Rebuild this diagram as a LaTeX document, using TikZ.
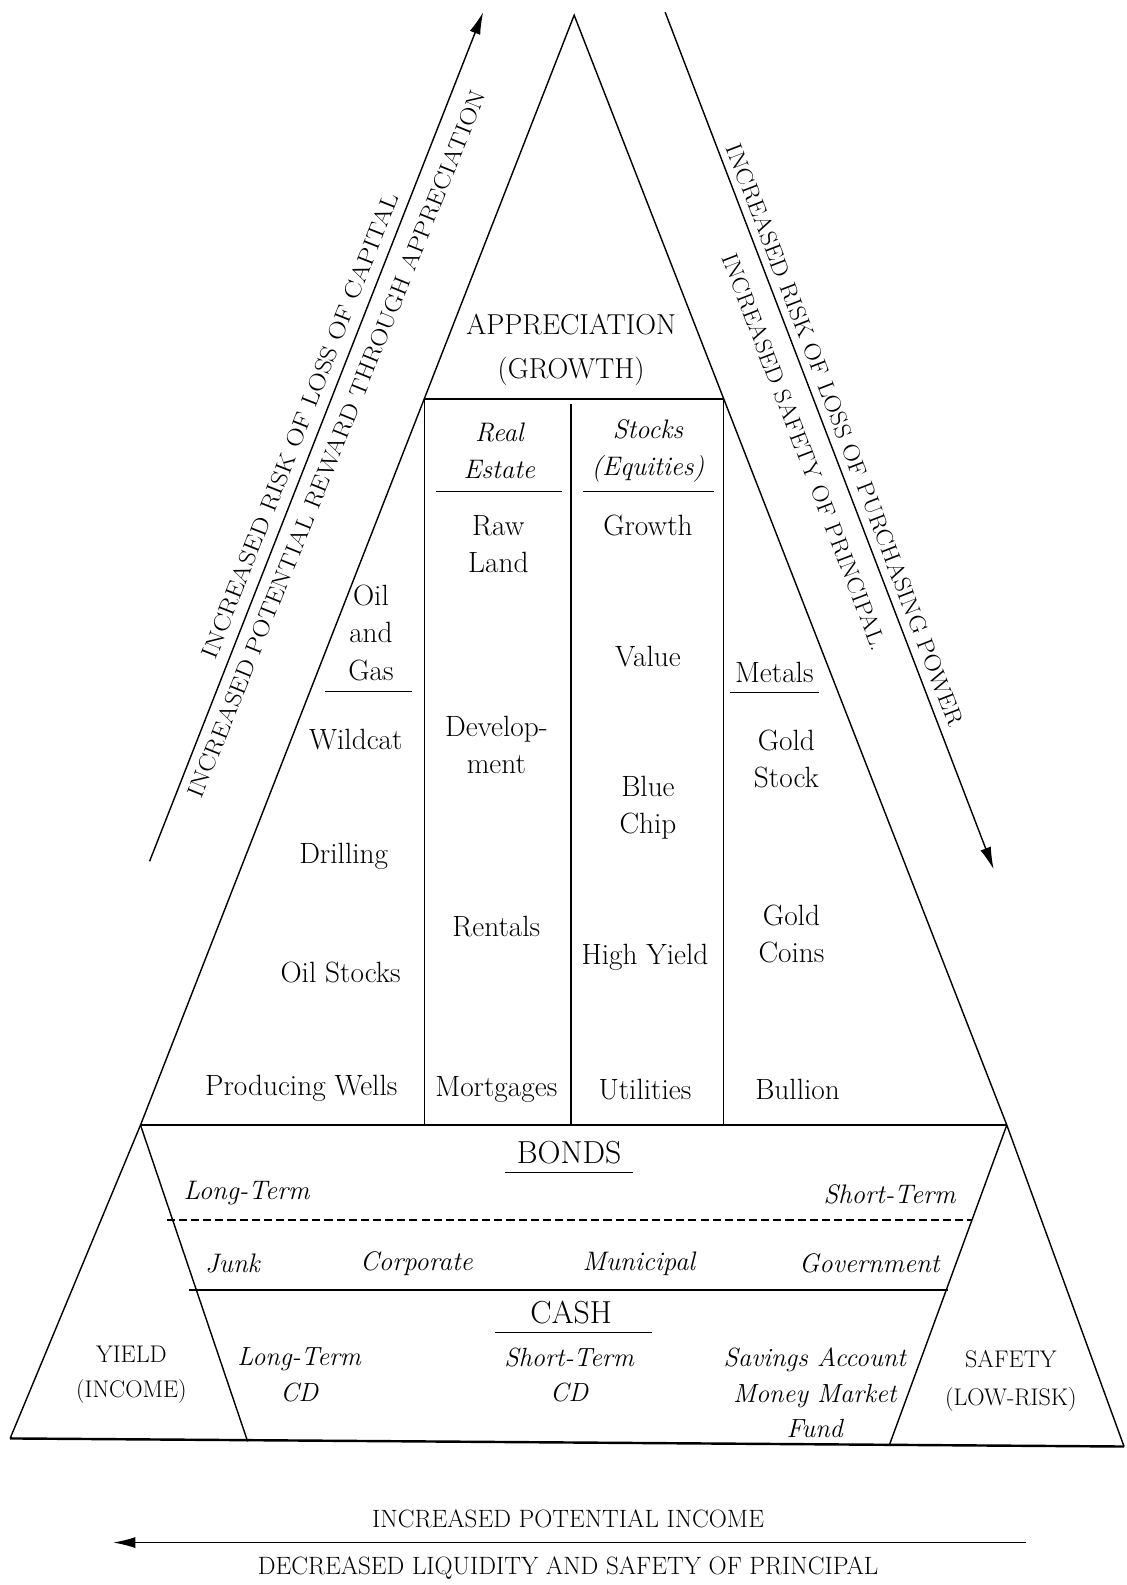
\documentclass[tikz,border=0pt]{standalone}
\usepackage{fontspec}
\usetikzlibrary{arrows.meta}
\newcommand{\fsz}[2]{\fontsize{#1}{#2}\selectfont}
\begin{document}
\begin{tikzpicture}[x=1pt,y=-1pt,
  ln/.style={line width=1.4pt},
  heavy/.style={line width=2.4pt},
  arr/.style={line width=1.4pt,-{Latex[length=22pt,width=11pt]}},
  body/.style={font=\fsz{29}{37}, align=center, inner sep=0pt},
  ital/.style={font=\fsz{26.5}{37}\itshape, align=center, inner sep=0pt},
  itcash/.style={font=\fsz{26}{35}\itshape, align=center, inner sep=0pt},
  head/.style={font=\fsz{28.5}{43}, align=center, inner sep=0pt},
  big/.style={font=\fsz{31.5}{34}, inner sep=0pt},
  caps/.style={font=\fsz{24.8}{30}, inner sep=0pt},
  side/.style={font=\fsz{23.8}{37}, align=center, inner sep=0pt},
  diag/.style={font=\fsz{23}{28}, inner sep=0pt},
]
\useasboundingbox (0,0) rectangle (1114,1568);
% main outline
\coordinate (A) at (568,15);
\coordinate (TL) at (139,1113);
\coordinate (TR) at (996,1113);
\coordinate (BL) at (10,1423);
\coordinate (BR) at (1112,1431);
\coordinate (IL) at (245,1426);
\coordinate (IR) at (880,1429);
\draw[ln] (BL) -- (TL) -- (A) -- (TR) -- (BR);
\draw[heavy] (TL) -- (TR);
\draw[heavy] (BL) -- (BR);
\draw[ln] (TL) -- (IL);
\draw[ln] (TR) -- (IR);
\draw[heavy] (187,1276) -- (938,1276);
\draw[ln, dash pattern=on 8pt off 4pt] (165,1207) -- (962,1207);
% central box
\draw[heavy] (420,395) -- (716,395);
\draw[ln] (420,395) -- (420,1112);
\draw[ln] (565,400) -- (565,1112);
\draw[ln] (716,395) -- (716,1112);
% underlines
\draw[ln] (431,486) -- (556,486);
\draw[ln] (577,486) -- (706,486);
\draw[ln] (322,684) -- (408,684);
\draw[ln] (722,685) -- (810,685);
\draw[ln] (500,1160) -- (626,1160);
\draw[ln] (490,1318) -- (645,1318);
% arrows
\coordinate (la0) at (148,852); \coordinate (la1) at (478,12);
\draw[arr] (la0) -- (la1);
\coordinate (ra0) at (658,12); \coordinate (ra1) at (983,860);
\draw[arr] (ra0) -- (ra1);
\coordinate (ba0) at (1015,1526); \coordinate (ba1) at (112,1526);
\draw[arr] (ba0) -- (ba1);
% diagonal labels
\node[diag, rotate=68.4, xscale=1.165] (d1) at (297,421) {INCREASED RISK OF LOSS OF CAPITAL};
\node[diag, rotate=68.0, xscale=1.14] (d2) at (333,439) {INCREASED POTENTIAL REWARD THROUGH APPRECIATION};
\node[diag, rotate=-68.9, xscale=1.096] (d3) at (836,430) {INCREASED RISK OF LOSS OF PURCHASING POWER};
\node[diag, rotate=-69, xscale=1.074] (d4) at (796,447) {INCREASED SAFETY OF PRINCIPAL.};
% top
\node[head] (appr) at (565,346) {APPRECIATION\\(GROWTH)};
\node[ital] (re) at (494,446) {Real\\Estate};
\node[ital] (st) at (641,446) {Stocks\\(Equities)};
\node[body] (raw) at (493,538) {Raw\\Land};
\node[body] (growth) at (641,520) {Growth};
\node[body] (value) at (641,650) {Value};
\node[body] (dev) at (491,737) {Develop-\\ment};
\node[body] (blue) at (641,799) {Blue\\Chip};
\node[body] (rent) at (491,917) {Rentals};
\node[body] (hy) at (638,947) {High Yield};
\node[body] (mort) at (491,1078) {Mortgages};
\node[body] (util) at (638,1078) {Utilities};
\node[body] (oil) at (367,626) {Oil\\and\\Gas};
\node[body] (wild) at (352,732) {Wildcat};
\node[body] (drill) at (340,847) {Drilling};
\node[body] (ostk) at (337,962) {Oil Stocks};
\node[body] (prod) at (298,1077) {Producing Wells};
\node[body] (metals) at (766,665) {Metals};
\node[body] (gstk) at (778,751) {Gold\\Stock};
\node[body] (gcoin) at (783,924) {Gold\\Coins};
\node[body] (bull) at (789,1078) {Bullion};
% bonds
\node[big] (bonds) at (563,1140) {BONDS};
\node[ital] (ltb) at (244,1180) {Long-Term};
\node[ital] (stb) at (880,1182) {Short-Term};
\node[ital] (junk) at (230,1250) {Junk};
\node[ital] (corp) at (412,1250) {Corporate};
\node[ital] (muni) at (632,1250) {Municipal};
\node[ital] (gov) at (860,1250) {Government};
% cash
\node[big] (cash) at (565,1298) {CASH};
\node[itcash] (ltcd) at (296,1360) {Long-Term\\CD};
\node[itcash] (stcd) at (563,1360) {Short-Term\\CD};
\node[itcash] (sav) at (806,1378) {Savings Account\\Money Market\\Fund};
\node[side, font=\fsz{23.8}{35}] (yield) at (130,1360) {YIELD\\(INCOME)};
\node[side] (safe) at (1000,1366) {SAFETY\\(LOW-RISK)};
% bottom
\node[caps] (inc) at (562,1503) {INCREASED POTENTIAL INCOME};
\node[caps] (dec) at (562,1551) {DECREASED LIQUIDITY AND SAFETY OF PRINCIPAL};
\end{tikzpicture}
\end{document}
